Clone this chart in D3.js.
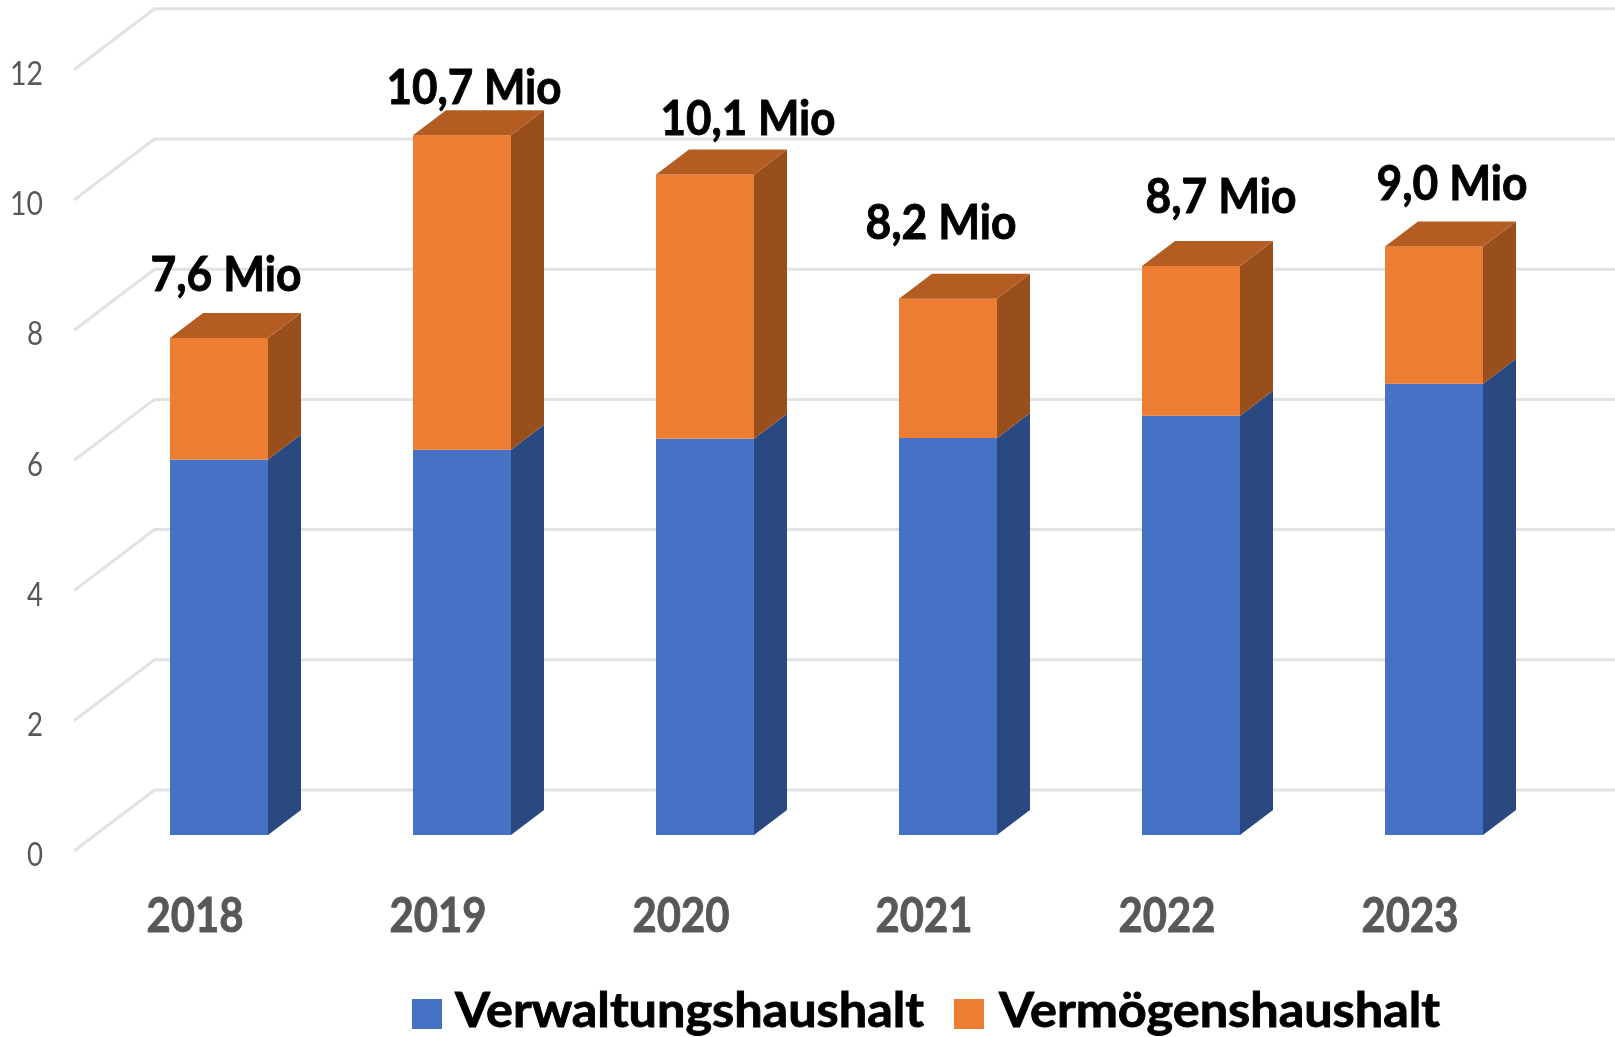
<!DOCTYPE html>
<html><head><meta charset="utf-8">
<script src="https://cdnjs.cloudflare.com/ajax/libs/d3/7.8.5/d3.min.js"></script>
<style>html,body{margin:0;padding:0;background:#fff;overflow:hidden}svg{display:block}text{font-family:Lato,"Open Sans",sans-serif}</style>
</head><body><svg id="c" width="1615" height="1037"></svg>
<script>
const years = ["2018","2019","2020","2021","2022","2023"];
const verwaltung = [5.74,5.89,6.06,6.07,6.41,6.9];
const totals = [7.6,10.7,10.1,8.2,8.7,9.0];
const vermoegen = totals.map((t,i)=>+(t-verwaltung[i]).toFixed(2));
const labels = ["7,6 Mio","10,7 Mio","10,1 Mio","8,2 Mio","8,7 Mio","9,0 Mio"];
const yTicks = [0,2,4,6,8,10,12];
const seriesNames = ["Verwaltungshaushalt","Vermögenshaushalt"];

// layout
const W=1615,H=1037, unit=65.1, barUnit=65.4;
const frontZero=851, barZero=835, backZero=790;
const wallLeft=154.5, floorLeft=74;
const depthX=33, depthY=25, barW=98;
const labelDx=[7,12,43,-7,30,18];      // label centre vs. bar centre
const labelBase=[-47,-31,-39,-60,-53,-46]; // baseline vs. front top of the bar

const svg=d3.select("#c");
const scaleFor=z=>d3.scaleLinear().domain([0,12]).range([z,z-12*unit]);
const yFront=scaleFor(frontZero), yBack=scaleFor(backZero);
const yBar=d3.scaleLinear().domain([0,12]).range([barZero,barZero-12*barUnit]);
const xBar=d3.scaleBand().domain(years).range([170,170+6*243]).paddingInner(0);
const xCat=d3.scalePoint().domain(years).range([194.5,194.5+5*243]);
const barX=d=>xBar(d);

const blur=svg.append("defs").append("filter").attr("id","soft");
blur.append("feGaussianBlur").attr("stdDeviation",0.6);
const root=svg.append("g").attr("filter","url(#soft)");

// gridlines
const grid=root.append("g").attr("fill","none").attr("stroke","#e2e2e2").attr("stroke-width",3);
grid.selectAll("path").data(yTicks).join("path")
  .attr("d",v=>d3.line()([[floorLeft,yFront(v)],[wallLeft,yBack(v)],[W,yBack(v)]]));

// bars
const colors=[{f:"#4472C4",s:"#2B4A80",t:"#355A9C"},{f:"#ED7D31",s:"#98501D",t:"#B35D22"}];
const poly=pts=>d3.line()(pts)+"Z";
const bars=root.append("g").selectAll("g").data(years).join("g");
bars.each(function(yr,i){
  const g=d3.select(this), x=barX(yr), r=x+barW;
  const parts=[[0,verwaltung[i],colors[0]],[verwaltung[i],verwaltung[i]+vermoegen[i],colors[1]]];
  parts.forEach(([a,b,c])=>{
    g.append("path").attr("fill",c.s).attr("d",poly([[r,yBar(a)],[r+depthX,yBar(a)-depthY],[r+depthX,yBar(b)-depthY],[r,yBar(b)]]));
    g.append("rect").attr("x",x).attr("y",yBar(b)).attr("width",barW).attr("height",yBar(a)-yBar(b)).attr("fill",c.f);
  });
  const top=yBar(totals[i]);
  g.append("path").attr("fill",colors[1].t).attr("d",poly([[x,top],[x+depthX,top-depthY],[r+depthX,top-depthY],[r,top]]));
});

// value labels
root.append("g").selectAll("text").data(years).join("text")
  .attr("x",(d,i)=>barX(d)+barW/2+labelDx[i])
  .attr("y",(d,i)=>yBar(totals[i])+labelBase[i])
  .attr("text-anchor","middle").attr("font-size",47).attr("font-weight",700).attr("fill","#000")
  .attr("stroke","#000").attr("stroke-width",0.9)
  .attr("textLength",(d,i)=>labels[i].startsWith("10")?175:151).attr("lengthAdjust","spacingAndGlyphs")
  .text((d,i)=>labels[i]);

// y axis
const yAxis=root.append("g").attr("transform","translate(43,4.5)")
  .call(d3.axisLeft(yFront).tickValues(yTicks).tickSize(0).tickPadding(0));
yAxis.select(".domain").remove();
yAxis.selectAll("text").attr("font-size",32).attr("fill","#595959").attr("font-family","Lato")
  .attr("textLength",d=>d>=10?33:16).attr("lengthAdjust","spacingAndGlyphs");

// x axis
const xAxis=root.append("g").attr("transform","translate(0,899)")
  .call(d3.axisBottom(xCat).tickSize(0).tickPadding(0));
xAxis.select(".domain").remove();
xAxis.selectAll("text").attr("font-size",47).attr("font-weight",700).attr("fill","#595959").attr("font-family","Lato")
  .attr("stroke","#595959").attr("stroke-width",0.9)
  .attr("textLength",97).attr("lengthAdjust","spacingAndGlyphs");

// legend
const legendX=[412,954], legendTextX=[455,999], legendLen=[469,441];
const leg=root.append("g").selectAll("g").data(seriesNames).join("g");
leg.append("rect").attr("x",(d,i)=>legendX[i]).attr("y",999).attr("width",30).attr("height",30).attr("fill",(d,i)=>colors[i].f);
leg.append("text").attr("x",(d,i)=>legendTextX[i]).attr("y",1027).attr("font-size",48).attr("font-weight",700).attr("fill","#000")
  .attr("stroke","#000").attr("stroke-width",0.9)
  .attr("textLength",(d,i)=>legendLen[i]).attr("lengthAdjust","spacingAndGlyphs").text(d=>d);
</script></body></html>
